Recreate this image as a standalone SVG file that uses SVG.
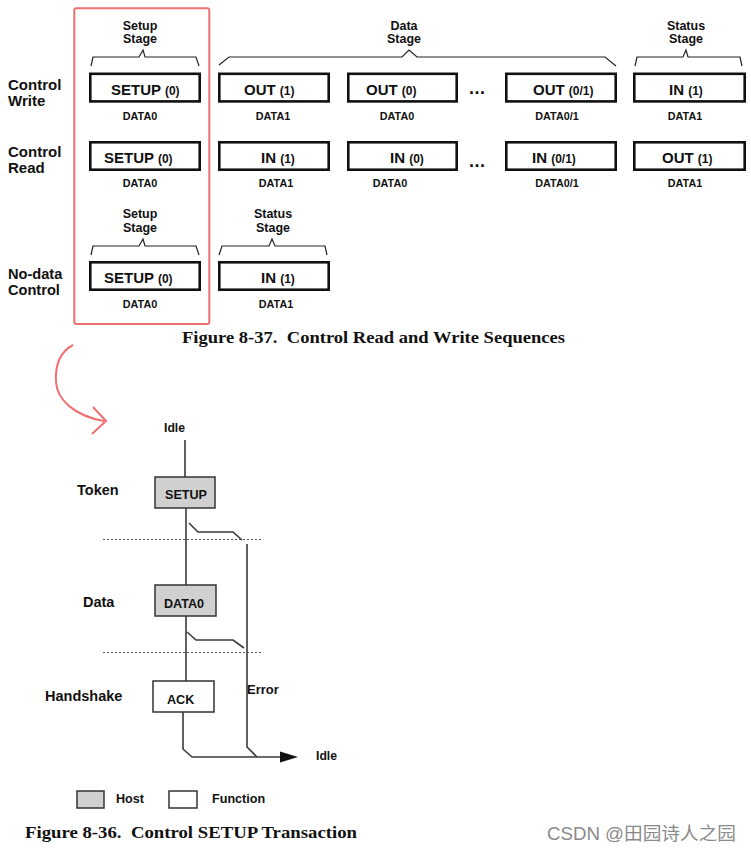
<svg xmlns="http://www.w3.org/2000/svg" width="751" height="852" viewBox="0 0 751 852">
<style>
text{font-family:"Liberation Sans",Arial,sans-serif;font-weight:bold;fill:#111}
.box{fill:#fff;stroke:#111;stroke-width:2.6}
.big{font-size:15px}
.sm{font-size:12px}
.dl{font-size:10.8px;text-anchor:middle}
.row{font-size:15px}
.stg{font-size:12.5px;text-anchor:middle}
.brace{fill:none;stroke:#222;stroke-width:1.2}
.cap{font-family:"Liberation Serif","Times New Roman",serif;font-size:17px;font-weight:bold}
.ln{fill:none;stroke:#3a3a3a;stroke-width:1.6}
.dot{fill:none;stroke:#555;stroke-width:1.2;stroke-dasharray:2 2}
.host{fill:#d0d0d0;stroke:#333;stroke-width:1.5}
.func{fill:#fff;stroke:#333;stroke-width:1.5}
.lb{font-size:14.5px}
.bx{font-size:12.6px}
.red{fill:none;stroke:#f07070;stroke-width:2}
.head{fill:#111;stroke:none}
</style>
<rect width="751" height="852" fill="#fff"/>

<!-- highlight -->
<rect id="highlight" x="74.3" y="8.3" width="135" height="315.7" rx="2" class="red"/>

<!-- row labels -->
<g id="row-labels">
<text class="row" x="8" y="90">Control</text>
<text class="row" x="8" y="106">Write</text>
<text class="row" x="8" y="157">Control</text>
<text class="row" x="8" y="173">Read</text>
<text class="row" x="8" y="278.5" style="font-size:14.6px">No-data</text>
<text class="row" x="8" y="295" style="font-size:14.6px">Control</text>
</g>

<!-- stage labels -->
<g id="stages">
<text class="stg" x="140" y="30">Setup</text><text class="stg" x="140" y="43">Stage</text>
<text class="stg" x="404" y="30">Data</text><text class="stg" x="404" y="43">Stage</text>
<text class="stg" x="686" y="30">Status</text><text class="stg" x="686" y="43">Stage</text>
<text class="stg" x="140" y="218">Setup</text><text class="stg" x="140" y="232">Stage</text>
<text class="stg" x="273" y="218">Status</text><text class="stg" x="273" y="232">Stage</text>
</g>

<g id="braces">
<path class="brace" d="M91,66 L93,57 L139,57 L143,50 L145,57 L196,57 L199,66"/>
<path class="brace" d="M219,65 L229,57 L402,57 L409,50 L417,57 L605,57 L616,66"/>
<path class="brace" d="M635,66 L637,57 L683,57 L686,50 L688,57 L740,57 L742,66"/>
<path class="brace" d="M91,255 L93,246 L139,246 L143,239 L145,246 L196,246 L199,255"/>
<path class="brace" d="M219,255 L222,246 L269,246 L272,239 L275,246 L325,246 L327,255"/>
</g>

<!-- row 1: control write -->
<g id="w1"><rect class="box" x="90.3" y="73.8" width="109.4" height="27.6"/><text x="111" y="95"><tspan class="big">SETUP </tspan><tspan class="sm">(0)</tspan></text><text class="dl" x="140" y="120">DATA0</text></g>
<g id="w2"><rect class="box" x="219.3" y="73.8" width="109.4" height="27.6"/><text x="244" y="95"><tspan class="big">OUT </tspan><tspan class="sm">(1)</tspan></text><text class="dl" x="273" y="120">DATA1</text></g>
<g id="w3"><rect class="box" x="348.3" y="73.8" width="108.4" height="27.6"/><text x="366" y="95"><tspan class="big">OUT </tspan><tspan class="sm">(0)</tspan></text><text class="dl" x="397" y="120">DATA0</text></g>
<text x="469" y="94" style="font-size:18px;letter-spacing:0.5px">...</text>
<g id="w4"><rect class="box" x="506.3" y="73.8" width="109.4" height="27.6"/><text x="533" y="95"><tspan class="big">OUT </tspan><tspan class="sm">(0/1)</tspan></text><text class="dl" x="557" y="120">DATA0/1</text></g>
<g id="w5"><rect class="box" x="634.3" y="73.8" width="110.4" height="27.6"/><text x="669" y="95"><tspan class="big">IN </tspan><tspan class="sm">(1)</tspan></text><text class="dl" x="685" y="120">DATA1</text></g>

<!-- row 2: control read -->
<g id="r1"><rect class="box" x="90.3" y="142.3" width="109.4" height="27.4"/><text x="104" y="163"><tspan class="big">SETUP </tspan><tspan class="sm">(0)</tspan></text><text class="dl" x="140" y="187">DATA0</text></g>
<g id="r2"><rect class="box" x="219.3" y="142.3" width="109.4" height="27.4"/><text x="261" y="163"><tspan class="big">IN </tspan><tspan class="sm">(1)</tspan></text><text class="dl" x="276" y="187">DATA1</text></g>
<g id="r3"><rect class="box" x="348.3" y="142.3" width="108.4" height="27.4"/><text x="390" y="163"><tspan class="big">IN </tspan><tspan class="sm">(0)</tspan></text><text class="dl" x="390" y="187">DATA0</text></g>
<text x="469" y="167" style="font-size:18px;letter-spacing:0.5px">...</text>
<g id="r4"><rect class="box" x="506.3" y="142.3" width="109.4" height="27.4"/><text x="532" y="163"><tspan class="big">IN </tspan><tspan class="sm">(0/1)</tspan></text><text class="dl" x="557" y="187">DATA0/1</text></g>
<g id="r5"><rect class="box" x="634.3" y="142.3" width="110.4" height="27.4"/><text x="662" y="163"><tspan class="big">OUT </tspan><tspan class="sm">(1)</tspan></text><text class="dl" x="685" y="187">DATA1</text></g>

<!-- row 3: no-data control -->
<g id="n1"><rect class="box" x="90.3" y="262.3" width="109.4" height="27.4"/><text x="104" y="283"><tspan class="big">SETUP </tspan><tspan class="sm">(0)</tspan></text><text class="dl" x="140" y="308">DATA0</text></g>
<g id="n2"><rect class="box" x="219.3" y="262.3" width="109.4" height="27.4"/><text x="261" y="283"><tspan class="big">IN </tspan><tspan class="sm">(1)</tspan></text><text class="dl" x="276" y="308">DATA1</text></g>

<text class="cap" x="182" y="343" textLength="383" lengthAdjust="spacingAndGlyphs" xml:space="preserve">Figure 8-37.  Control Read and Write Sequences</text>

<!-- red hand-drawn arrow -->
<g id="red-arrow">
<path class="red" d="M73,345 C60,352 55,365 56,382 C57,400 75,416 104,421"/>
<polyline class="red" points="93,407 106,421 92,434"/>
</g>

<!-- transaction diagram -->
<g id="phase-labels">
<text class="lb" x="77" y="495">Token</text>
<text class="lb" x="83" y="607">Data</text>
<text class="lb" x="45" y="701">Handshake</text>
</g>

<text id="idle-top" x="164" y="432" style="font-size:12.2px">Idle</text>

<g id="connectors">
<line class="ln" x1="185" y1="440" x2="185" y2="477"/>
<line class="ln" x1="186" y1="508" x2="186" y2="585"/>
<line class="ln" x1="186" y1="616" x2="186" y2="681"/>
<polyline class="ln" points="189,523 198,532 233,532 242,540"/>
<polyline class="ln" points="187,632 196,640 233,640 244,648"/>
<polyline class="ln" points="247,544 247,747 257,757"/>
<polyline class="ln" points="183,712 183,749 192,757 282,757"/>
<polygon class="head" points="280,751.5 298,757 280,762.5"/>
<line class="dot" x1="103" y1="539.5" x2="261" y2="539.5"/>
<line class="dot" x1="103" y1="652.5" x2="261" y2="652.5"/>
</g>

<g id="setup-token"><rect class="host" x="155" y="477" width="60" height="31"/><text class="bx" x="165" y="499">SETUP</text></g>
<g id="data0"><rect class="host" x="155" y="585" width="61" height="31"/><text class="bx" x="164" y="608">DATA0</text></g>
<g id="ack"><rect class="func" x="153" y="681" width="61" height="31"/><text class="bx" x="167" y="704">ACK</text></g>

<text id="error" x="247" y="694" style="font-size:13px">Error</text>
<text id="idle-right" x="316" y="760" style="font-size:12.2px">Idle</text>

<g id="legend">
<rect class="host" x="77" y="791" width="27" height="17"/>
<text x="116" y="803" style="font-size:12.6px">Host</text>
<rect class="func" x="169" y="791" width="28" height="17"/>
<text x="212" y="803" style="font-size:12.6px">Function</text>
</g>

<text class="cap" x="25" y="838" textLength="332" lengthAdjust="spacingAndGlyphs" xml:space="preserve">Figure 8-36.  Control SETUP Transaction</text>

<text id="watermark" x="547" y="840" textLength="189" lengthAdjust="spacingAndGlyphs" style="font-family:'Liberation Sans','Noto Sans CJK SC',sans-serif;font-weight:normal;font-size:18px;fill:#8a8a8a">CSDN @田园诗人之园</text>
</svg>
